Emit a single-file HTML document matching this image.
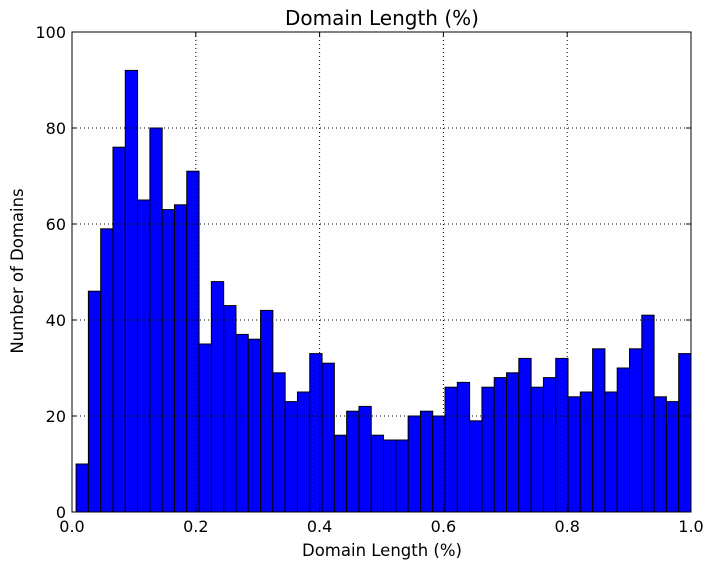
<!DOCTYPE html>
<html><head><meta charset="utf-8"><style>
body{margin:0;background:#fff;}
text{font-family:"DejaVu Sans","Liberation Sans",sans-serif;fill:#000;}
</style></head><body>
<svg id="chart" width="715" height="570" xmlns="http://www.w3.org/2000/svg">
<rect width="715" height="570" fill="#fff"/>
<g id="grid"></g>
<g id="bars"></g>
<rect x="72" y="32" width="619" height="480" fill="none" stroke="#000" stroke-width="1"/>
<g id="ticks"></g>
<text x="382" y="25" font-size="20" text-anchor="middle">Domain Length (%)</text>
<text x="382" y="556" font-size="16.5" text-anchor="middle">Domain Length (%)</text>
<text x="23" y="271" font-size="16.5" text-anchor="middle" transform="rotate(-90 23 271)">Number of Domains</text>
</svg>
<script>
const counts=[10,46,59,76,92,65,80,63,64,71,35,48,43,37,36,42,29,23,25,33,31,16,21,22,16,15,15,20,21,20,26,27,19,26,28,29,32,26,28,32,24,25,34,25,30,34,41,24,23,33];
const binStart=0.0066, binEnd=1.0;
const xTicks=[0,0.2,0.4,0.6,0.8,1.0];
const xTickLabels=["0.0","0.2","0.4","0.6","0.8","1.0"];
const yTicks=[0,20,40,60,80,100];
const X0=72,X1=691,Y0=512,Y1=32;
const xs=v=>X0+v*(X1-X0);
const ys=v=>Y0-v/100*(Y0-Y1);
const NS="http://www.w3.org/2000/svg";
function mk(tag,attrs,parent){const e=document.createElementNS(NS,tag);for(const k in attrs)e.setAttribute(k,attrs[k]);parent.appendChild(e);return e;}
const grid=document.getElementById('grid'),bars=document.getElementById('bars'),ticks=document.getElementById('ticks');
const w=(binEnd-binStart)/counts.length;
counts.forEach((c,i)=>{
  const a=xs(binStart+i*w),b=xs(binStart+(i+1)*w);
  const r=mk('rect',{x:a,y:ys(c),width:b-a,height:ys(0)-ys(c),fill:'#0000ff',stroke:'#000','stroke-width':1},bars);
  
  
});
xTicks.forEach((t,i)=>{
  const x=xs(t);
  if(i>0&&i<xTicks.length-1){const g=mk('line',{x1:x,x2:x,y1:Y1,y2:Y0,stroke:'#000','stroke-dasharray':'1,3','stroke-width':1},grid);
  }
  mk('line',{x1:x,x2:x,y1:Y0,y2:Y0-5,stroke:'#000'},ticks);
  mk('line',{x1:x,x2:x,y1:Y1,y2:Y1+5,stroke:'#000'},ticks);
  const l=mk('text',{x:x,y:Y0+20,'font-size':16,'text-anchor':'middle'},ticks);l.textContent=xTickLabels[i];
  
});
yTicks.forEach((t,i)=>{
  const y=ys(t);
  if(i>0&&i<yTicks.length-1){const g=mk('line',{x1:X0,x2:X1,y1:y,y2:y,stroke:'#000','stroke-dasharray':'1,3','stroke-width':1},grid);
  }
  mk('line',{x1:X0,x2:X0+5,y1:y,y2:y,stroke:'#000'},ticks);
  mk('line',{x1:X1,x2:X1-5,y1:y,y2:y,stroke:'#000'},ticks);
  const l=mk('text',{x:X0-6,y:y+6,'font-size':16,'text-anchor':'end'},ticks);l.textContent=t;
  
});
document.getElementById('chart').appendChild(grid);
</script>
</body></html>
